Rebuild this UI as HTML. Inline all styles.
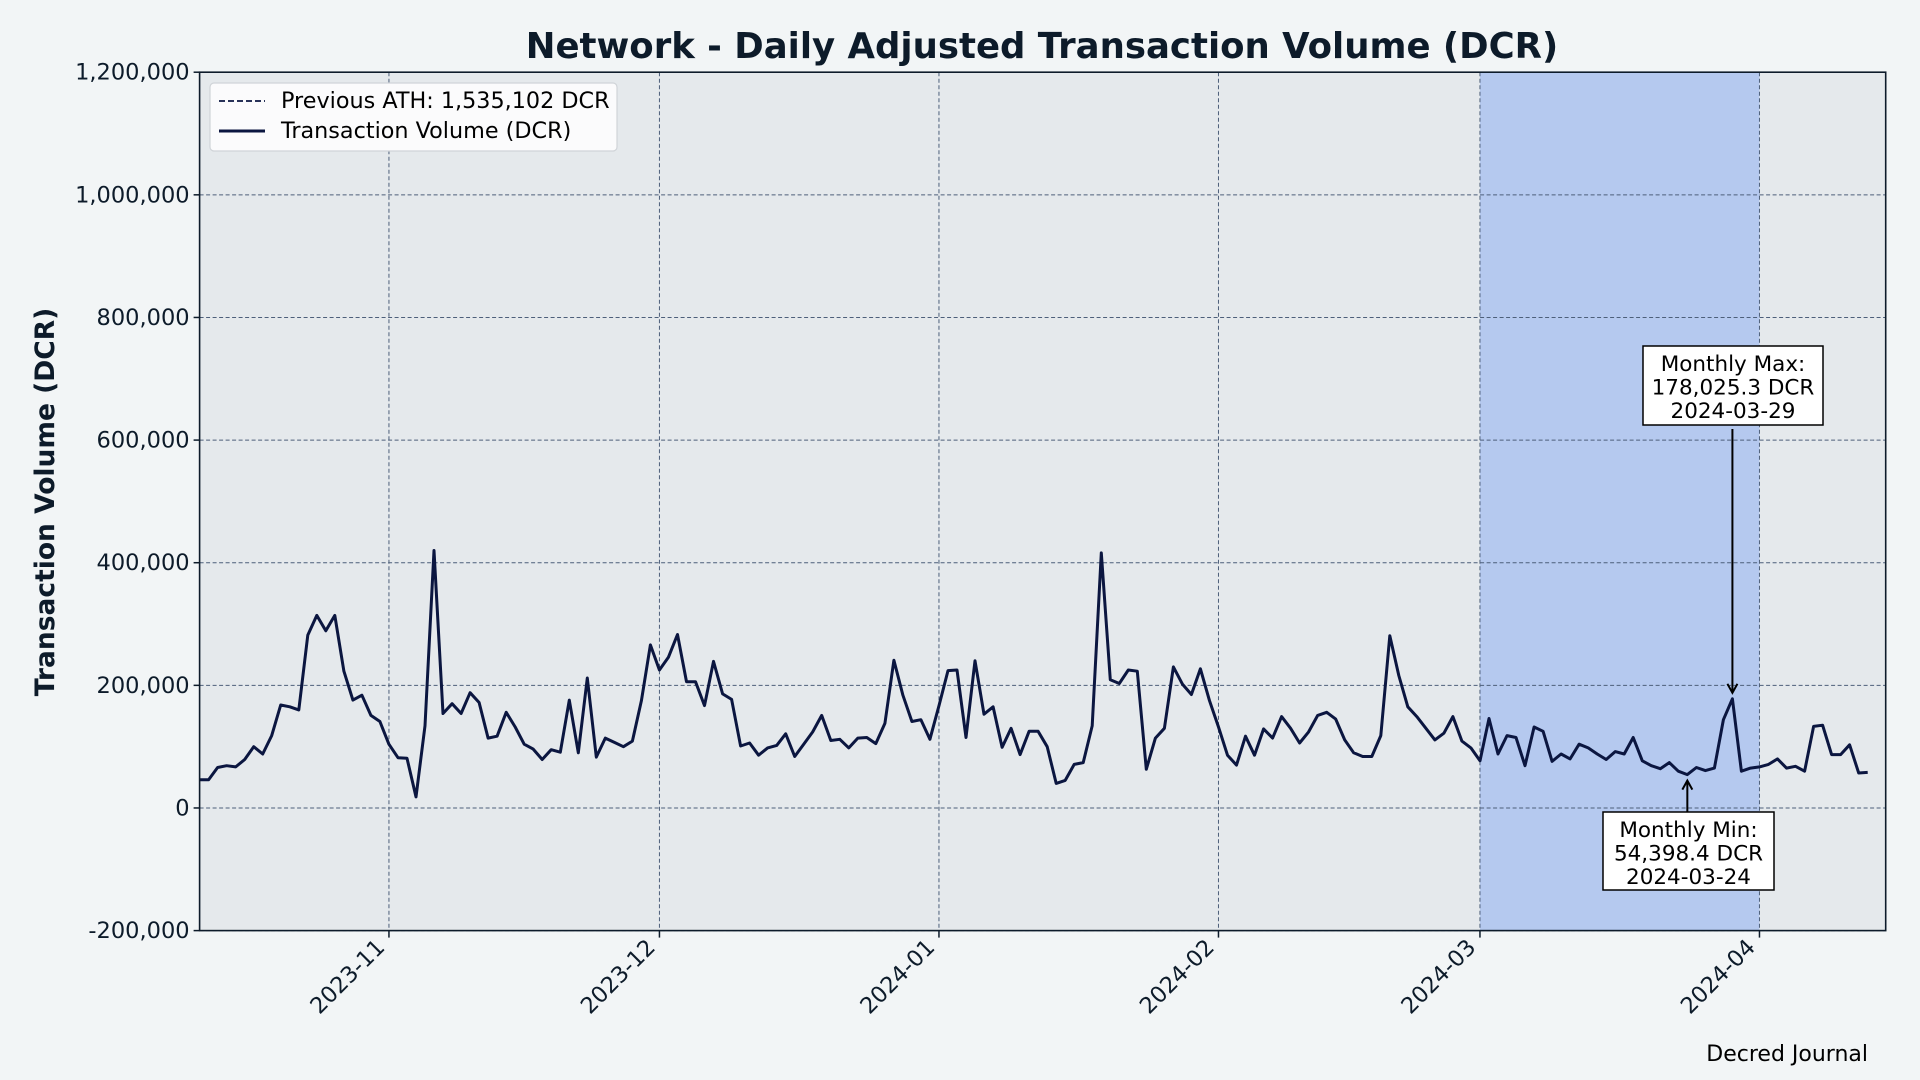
<!DOCTYPE html>
<html><head><meta charset="utf-8"><style>
html,body{margin:0;padding:0;background:#f2f5f6;}
svg{display:block;font-family:"DejaVu Sans","Liberation Sans",sans-serif;}
</style></head><body>
<svg id="chart" width="1920" height="1080" viewBox="0 0 1920 1080" xmlns="http://www.w3.org/2000/svg">
<rect x="0" y="0" width="1920" height="1080" fill="#f2f5f6"/>
<text x="1042" y="58" text-anchor="middle" font-size="35.5" font-weight="bold" fill="#0d1b2a">Network - Daily Adjusted Transaction Volume (DCR)</text>
<text transform="translate(54,502) rotate(-90)" text-anchor="middle" font-size="26.5" font-weight="bold" fill="#0d1b2a">Transaction Volume (DCR)</text>
<text x="1868" y="1061" text-anchor="end" font-size="22" fill="#000">Decred Journal</text>
<g id="plot"></g>
</svg>
<script>
// day index relative to 2023-11-01 (day 0); first point 2023-10-11
const startDay = -21;
const values = [46,46,66,69,67,79,100,88,118,168,165,160,282,314,289,314,223,176,184,151,141,
104,82,81,18,134,420,154,170,154,188,172,114,117,156,132,104,96,79,95,91,176,90,212,83,114,107,100,109,175,266,
225,246,283,206,206,167,239,186,177,101,106,86,98,102,121,84,104,124,151,110,112,98,114,115,105,138,241,184,141,144,112,
167,224,225,115,240,153,165,99,130,87,125,125,100,40,45,71,74,134,416,209,203,225,223,63,114,130,230,202,185,227,175,
132,86,70,117,86,129,114,149,130,106,124,151,156,145,111,90,84,84,118,281,216,165,149,130,111,122,149,109,98,
77,146,88,118,115,69,132,125,76,88,80,104,98,88,79,92,88,115,77,69,64,74,60,54.4,66,61,65,144,178.0253,60,65,
67,71,80,65,68,60,133,135,87,87,103,57,58].map(v=>v*1000);
const yTicks = [-200000,0,200000,400000,600000,800000,1000000,1200000];
const xTickLabels = ["2023-11","2023-12","2024-01","2024-02","2024-03","2024-04"];
const xTickDays = [0,30,61,92,121,152];
const spanDays = [121,152];
const maxInfo = {day:149, value:178025.3, label:["Monthly Max:","178,025.3 DCR","2024-03-29"]};
const minInfo = {day:144, value:54398.4, label:["Monthly Min:","54,398.4 DCR","2024-03-24"]};

const L=199.6,R=1885.7,T=72.2,B=930.6;
const xMin=-21,xMax=166,yMin=-200000,yMax=1200000;
const xs=d=>L+(d-xMin)/(xMax-xMin)*(R-L);
const ys=v=>B-(v-yMin)/(yMax-yMin)*(B-T);
const NS="http://www.w3.org/2000/svg";
const g=document.getElementById('plot');
function mk(tag,attrs,parent){const e=document.createElementNS(NS,tag);for(const k in attrs)e.setAttribute(k,attrs[k]);(parent||g).appendChild(e);return e;}
const fmt=v=>v.toLocaleString('en-US');

let bg=mk('rect',{x:L,y:T,width:R-L,height:B-T,fill:'#e5e9ec'});


let sp=mk('rect',{x:xs(spanDays[0]),y:T,width:xs(spanDays[1])-xs(spanDays[0]),height:B-T,fill:'#b5c9ef'});



yTicks.forEach(t=>{
  const y=ys(t);
  let gl=mk('line',{x1:L,x2:R,y1:y,y2:y,stroke:'#4d5f7a','stroke-width':1,'stroke-dasharray':'4,2.5'});
  
  
  let tk=mk('line',{x1:L-6,x2:L,y1:y,y2:y,stroke:'#0d1b2a','stroke-width':1.5});
  
  
  let tl=mk('text',{x:L-10,y:y+7.5,'text-anchor':'end','font-size':22.5,fill:'#0d1b2a'});
  tl.textContent=fmt(t);
  
  
});
xTickDays.forEach((d,i)=>{
  const x=xs(d);
  let gl=mk('line',{x1:x,x2:x,y1:T,y2:B,stroke:'#4d5f7a','stroke-width':1,'stroke-dasharray':'4,2.5'});
  
  
  let tk=mk('line',{x1:x,x2:x,y1:B,y2:B+7,stroke:'#0d1b2a','stroke-width':1.5});
  
  
  let tl=mk('text',{transform:`translate(${x-3},${B+18}) rotate(-45)`,'text-anchor':'end','font-size':22.5,fill:'#0d1b2a'});
  tl.textContent=xTickLabels[i];
  
  
});

const pts=values.map((v,i)=>xs(startDay+i).toFixed(1)+','+ys(v).toFixed(1)).join(' ');
let line=mk('polyline',{points:pts,fill:'none',stroke:'#0b1640','stroke-width':3,'stroke-linejoin':'round'});



let frame=mk('rect',{x:L,y:T,width:R-L,height:B-T,fill:'none',stroke:'#0d1b2a','stroke-width':1.6});



function annot(info,boxX,boxY,boxW,boxH,fromY,name){
  const x=xs(info.day), yp=ys(info.value);
  const up = fromY>yp;
  const tipY = up? yp+6 : yp-6;
  let a=mk('line',{x1:x,x2:x,y1:fromY,y2:tipY,stroke:'#000','stroke-width':2});
  
  
  const s=up?1:-1;
  let h=mk('polyline',{points:`${x-5},${tipY+9*s} ${x},${tipY} ${x+5},${tipY+9*s}`,fill:'none',stroke:'#000','stroke-width':2});
  
  
  let b=mk('rect',{x:boxX,y:boxY,width:boxW,height:boxH,fill:'#fff',stroke:'#000','stroke-width':1.5});
  
  
  info.label.forEach((t,i)=>{
    let tx=mk('text',{x:boxX+boxW/2,y:boxY+25+i*23.5,'text-anchor':'middle','font-size':21.5,fill:'#000'});
    tx.textContent=t;
    
    
  });
}
annot(maxInfo,1643,346,180,79,429,'max-annotation');
annot(minInfo,1603,812,171,78,812,'min-annotation');

const lg=mk('g',{});


mk('rect',{x:210,y:83,width:407,height:68,rx:4,fill:'#fbfbfc',stroke:'#d0d4d8','stroke-width':1.2},lg);
let l1=mk('line',{x1:219,x2:265,y1:101,y2:101,stroke:'#0b1640','stroke-width':1.8,'stroke-dasharray':'6,3'},lg);


let t1=mk('text',{x:281,y:108,'font-size':22.3,fill:'#000'},lg);
t1.textContent='Previous ATH: 1,535,102 DCR';


let l2=mk('line',{x1:219,x2:265,y1:131,y2:131,stroke:'#0b1640','stroke-width':3},lg);


let t2=mk('text',{x:281,y:138,'font-size':22.3,fill:'#000'},lg);
t2.textContent='Transaction Volume (DCR)';


</script>
</body></html>
